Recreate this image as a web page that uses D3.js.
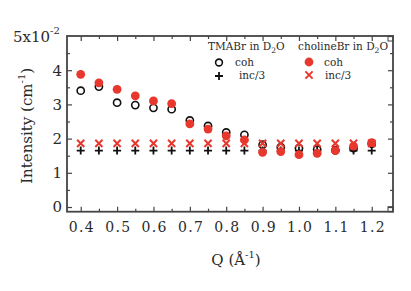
<!DOCTYPE html>
<html>
<head>
<meta charset="utf-8">
<script src="https://cdn.jsdelivr.net/npm/d3@7"></script>
<style>
  body { margin: 0; background: #fff; }
  svg { display: block; font-family: "DejaVu Serif", serif; }
</style>
</head>
<body>
<svg id="chart"></svg>
<script>
// Q values (1/Angstrom)
let qValues = [0.4, 0.45, 0.5, 0.55, 0.6, 0.65, 0.7, 0.75, 0.8, 0.85, 0.9, 0.95, 1.0, 1.05, 1.1, 1.15, 1.2]

// TMABr in D2O (units of 1e-2 cm^-1)
let tmaCoh = [3.40, 3.52, 3.05, 2.98, 2.90, 2.86, 2.53, 2.37, 2.18, 2.11, 1.82, 1.75, 1.72, 1.68, 1.66, 1.72, 1.85]
let tmaInc = [1.65, 1.65, 1.65, 1.65, 1.65, 1.65, 1.65, 1.65, 1.65, 1.65, 1.65, 1.65, 1.65, 1.65, 1.65, 1.65, 1.65]

// cholineBr in D2O
let cholCoh = [3.88, 3.63, 3.44, 3.25, 3.10, 3.02, 2.43, 2.28, 2.08, 1.96, 1.60, 1.62, 1.53, 1.57, 1.65, 1.78, 1.88]
let cholInc = [1.86, 1.86, 1.86, 1.86, 1.86, 1.86, 1.86, 1.86, 1.86, 1.86, 1.86, 1.86, 1.86, 1.86, 1.86, 1.86, 1.86]

let xTicks = [0.4, 0.5, 0.6, 0.7, 0.8, 0.9, 1.0, 1.1, 1.2]
let xMinor = [0.45, 0.55, 0.65, 0.75, 0.85, 0.95, 1.05, 1.15]
let yTicks = [0, 1, 2, 3, 4]
let yMinor = [0.5, 1.5, 2.5, 3.5, 4.5]

let width = 411
let height = 291
let plotLeft = 67, plotRight = 393, plotTop = 36, plotBottom = 211.7
let red = "#e8372c"
let ink = "#2a2a2a"
let frameColor = "#444"

let svg = d3.select("#chart").attr("width", width).attr("height", height)

let xScale = d3.scaleLinear().domain([0.3623, 1.2585]).range([plotLeft, plotRight])
let yScale = d3.scaleLinear().domain([-0.137, 5]).range([plotBottom, plotTop])

// ticks on all four sides, pointing inward
let drawAxis = (axis, tx, ty, values, size, labels) => {
    let g = svg.append("g")
       .attr("transform", "translate(" + tx + "," + ty + ")")
       .call(axis.tickValues(values).tickSize(-size).tickPadding(labels ? labels : 3)
                 .tickFormat(labels ? d3.format(".1f") : ""))
    g.select(".domain").remove()
    g.selectAll("line").attr("stroke", frameColor).attr("stroke-width", 1.2)
    return g
}

let xb = drawAxis(d3.axisBottom(xScale), 0, plotBottom, xTicks, 5, 10)
xb.selectAll("text").attr("font-size", 14).attr("fill", ink)
  .attr("font-family", "DejaVu Serif").attr("letter-spacing", 1.3).attr("dx", 0.7)
drawAxis(d3.axisBottom(xScale), 0, plotBottom, xMinor, 3, 0)
drawAxis(d3.axisTop(xScale), 0, plotTop, xTicks, 5, 0)
drawAxis(d3.axisTop(xScale), 0, plotTop, xMinor, 3, 0)

let yl = svg.append("g")
   .attr("transform", "translate(" + plotLeft + ",0)")
   .call(d3.axisLeft(yScale).tickValues(yTicks).tickSize(-5).tickPadding(5).tickFormat(d3.format("d")))
yl.select(".domain").remove()
yl.selectAll("line").attr("stroke", frameColor).attr("stroke-width", 1.2)
yl.selectAll("text").attr("font-size", 15).attr("fill", ink).attr("font-family", "DejaVu Serif")
drawAxis(d3.axisLeft(yScale), plotLeft, 0, yMinor, 3, 0)
drawAxis(d3.axisRight(yScale), plotRight, 0, yTicks.concat([5]), 5, 0)
drawAxis(d3.axisRight(yScale), plotRight, 0, yMinor, 3, 0)

// frame
svg.append("rect")
   .attr("x", plotLeft).attr("y", plotTop)
   .attr("width", plotRight - plotLeft).attr("height", plotBottom - plotTop)
   .attr("fill", "none").attr("stroke", frameColor).attr("stroke-width", 1.8)

// small corner boxes on the right side
svg.append("rect").attr("x", plotRight - 5).attr("y", plotBottom - 5).attr("width", 5).attr("height", 5)
   .attr("fill", "none").attr("stroke", frameColor).attr("stroke-width", 1)
svg.append("rect").attr("x", plotRight - 5).attr("y", plotTop).attr("width", 5).attr("height", 5)
   .attr("fill", "none").attr("stroke", frameColor).attr("stroke-width", 1)

// top label 5x10^-2
let topLabel = svg.append("text")
   .attr("x", 13).attr("y", yScale(5) + 6)
   .attr("font-size", 15).attr("fill", ink)
topLabel.append("tspan").text("5x10")
topLabel.append("tspan").attr("dy", -8).attr("font-size", 10).text("-2")

// axis titles
let yTitle = svg.append("text")
   .attr("transform", "translate(32," + ((plotTop + plotBottom) / 2 + 2) + ") rotate(-90)")
   .attr("text-anchor", "middle").attr("font-size", 15).attr("fill", ink)
yTitle.append("tspan").text("Intensity (cm")
yTitle.append("tspan").attr("dy", -7).attr("font-size", 10).text("-1")
yTitle.append("tspan").attr("dy", 7).text(")")

let xTitle = svg.append("text")
   .attr("x", (plotLeft + plotRight) / 2 + 6).attr("y", 265)
   .attr("text-anchor", "middle").attr("font-size", 15).attr("fill", ink)
xTitle.append("tspan").text("Q (Å")
xTitle.append("tspan").attr("dy", -7).attr("font-size", 10).text("-1")
xTitle.append("tspan").attr("dy", 7).text(")")

// markers
let drawPlus = (g, x, y, s, color) => {
    g.append("path")
     .attr("d", "M" + (x - s) + "," + y + "H" + (x + s) + "M" + x + "," + (y - s) + "V" + (y + s))
     .attr("stroke", color).attr("stroke-width", 1.8).attr("fill", "none")
}
let drawX = (g, x, y, s, color) => {
    g.append("path")
     .attr("d", "M" + (x - s) + "," + (y - s) + "L" + (x + s) + "," + (y + s) + "M" + (x - s) + "," + (y + s) + "L" + (x + s) + "," + (y - s))
     .attr("stroke", color).attr("stroke-width", 2).attr("fill", "none")
}

let marks = svg.append("g")

marks.selectAll(".tma-coh")
   .data(qValues)
   .enter()
   .append("circle")
   .attr("class", "tma-coh")
   .attr("cx", (d) => xScale(d))
   .attr("cy", (d, i) => yScale(tmaCoh[i]))
   .attr("r", 3.6)
   .attr("fill", "none").attr("stroke", "#111").attr("stroke-width", 1.6)

qValues.forEach((q, i) => {
    drawPlus(marks, xScale(q), yScale(tmaInc[i]), 4, "#111")
})
qValues.forEach((q, i) => {
    drawX(marks, xScale(q), yScale(cholInc[i]), 3.6, red)
})

marks.selectAll(".chol-coh")
   .data(qValues)
   .enter()
   .append("circle")
   .attr("class", "chol-coh")
   .attr("cx", (d) => xScale(d))
   .attr("cy", (d, i) => yScale(cholCoh[i]))
   .attr("r", 4.4)
   .attr("fill", red)

// legend
let legend = svg.append("g").attr("font-size", 10.5).attr("fill", ink)
let legendTitle = (x, y, name) => {
    let t = legend.append("text").attr("x", x).attr("y", y)
    t.append("tspan").text(name + " in D")
    t.append("tspan").attr("dy", 3).attr("font-size", 7.5).text("2")
    t.append("tspan").attr("dy", -3).text("O")
}
legendTitle(208, 50, "TMABr")
legendTitle(298, 50, "cholineBr")

legend.append("circle").attr("cx", 219).attr("cy", 62.5).attr("r", 3.4)
   .attr("fill", "none").attr("stroke", "#111").attr("stroke-width", 1.6)
legend.append("text").attr("x", 235).attr("y", 66).text("coh")
drawPlus(legend, 219, 76, 4, "#111")
legend.append("text").attr("x", 239).attr("y", 79).text("inc/3")

legend.append("circle").attr("cx", 309).attr("cy", 62).attr("r", 4.4).attr("fill", red)
legend.append("text").attr("x", 324).attr("y", 66).text("coh")
drawX(legend, 309, 75, 3.6, red)
legend.append("text").attr("x", 325).attr("y", 79).text("inc/3")
</script>
</body>
</html>
